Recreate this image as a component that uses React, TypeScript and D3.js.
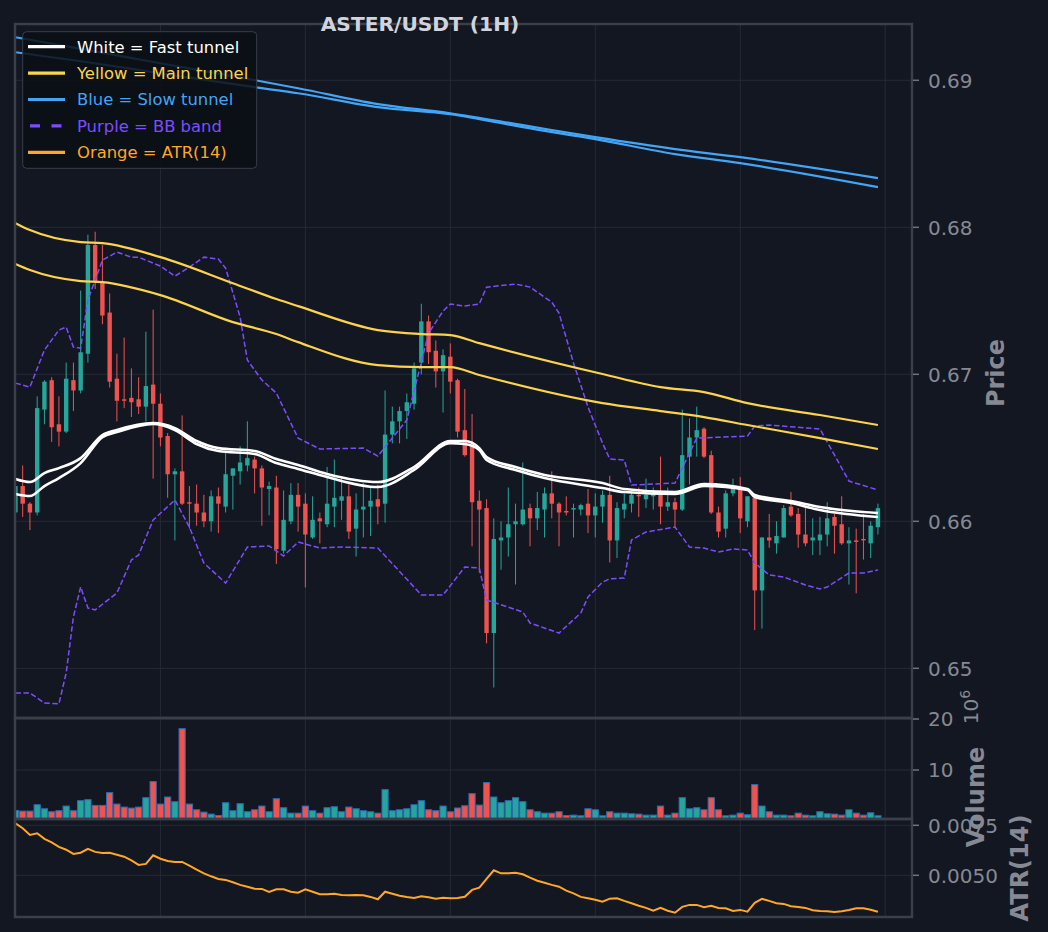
import React, { useEffect, useRef } from 'react';
import * as d3 from 'd3';

// ASTER/USDT 1H candles (index 0..119)
const opens = [
  0.6606, 0.6624, 0.6612, 0.6606, 0.6676, 0.6696, 0.6666, 0.6661, 0.6696, 0.6689,
  0.6714, 0.6788, 0.6763, 0.6742, 0.6697, 0.6683, 0.6684, 0.6683, 0.6678, 0.6693,
  0.6680, 0.6658, 0.6632, 0.6634, 0.6613, 0.6612, 0.6606, 0.6600, 0.6617, 0.6610,
  0.6631, 0.6634, 0.6638, 0.6642, 0.6636, 0.6622, 0.6623, 0.6580, 0.6600, 0.6618,
  0.6612, 0.6589, 0.6602, 0.6598, 0.6610, 0.6614, 0.6617, 0.6595, 0.6608, 0.6610,
  0.6615, 0.6612, 0.6659, 0.6668, 0.6675, 0.6680, 0.6708, 0.6736, 0.6716, 0.6702,
  0.6712, 0.6696, 0.6662, 0.6651, 0.6614, 0.6609, 0.6524, 0.6587, 0.6589, 0.6598,
  0.6598, 0.6609, 0.6602, 0.6608, 0.6619, 0.6612, 0.6607, 0.6608, 0.6608, 0.6612,
  0.6604, 0.6610, 0.6618, 0.6587, 0.6608, 0.6612, 0.6618, 0.6615, 0.6617, 0.6618,
  0.6610, 0.6613, 0.6608, 0.6644, 0.6657, 0.6663, 0.6645, 0.6606, 0.6595, 0.6619,
  0.6623, 0.6600, 0.6616, 0.6553, 0.6589, 0.6585, 0.6589, 0.6610, 0.6605, 0.6591,
  0.6587, 0.6587, 0.6591, 0.6603, 0.6598, 0.6585, 0.6587, 0.6588, 0.6585, 0.6596,
];
const highs = [
  0.6625, 0.6638, 0.6613, 0.6685, 0.6696, 0.6698, 0.6685, 0.6708, 0.6708, 0.6757,
  0.6795, 0.6797, 0.6788, 0.6755, 0.6714, 0.6725, 0.6704, 0.6698, 0.6729, 0.6744,
  0.6687, 0.6660, 0.6636, 0.6672, 0.6624, 0.6625, 0.6618, 0.6621, 0.6623, 0.6647,
  0.6636, 0.6651, 0.6668, 0.6644, 0.6638, 0.6627, 0.6631, 0.6621, 0.6626, 0.6626,
  0.6619, 0.6617, 0.6606, 0.6637, 0.6642, 0.6630, 0.6625, 0.6619, 0.6626, 0.6623,
  0.6625, 0.6689, 0.6678, 0.6678, 0.6687, 0.6708, 0.6748, 0.6740, 0.6723, 0.6717,
  0.6721, 0.6697, 0.6690, 0.6673, 0.6621, 0.6615, 0.6602, 0.6600, 0.6623, 0.6612,
  0.6640, 0.6612, 0.6620, 0.6623, 0.6634, 0.6613, 0.6617, 0.6612, 0.6612, 0.6622,
  0.6619, 0.6621, 0.6631, 0.6613, 0.6619, 0.6620, 0.6623, 0.6629, 0.6623, 0.6644,
  0.6623, 0.6616, 0.6676, 0.6670, 0.6678, 0.6664, 0.6648, 0.6610, 0.6621, 0.6629,
  0.6630, 0.6617, 0.6618, 0.6589, 0.6605, 0.6600, 0.6611, 0.6620, 0.6609, 0.6609,
  0.6602, 0.6603, 0.6613, 0.6605, 0.6617, 0.6596, 0.6595, 0.6605, 0.6600, 0.6612,
];
const lows = [
  0.6604, 0.6603, 0.6594, 0.6604, 0.6666, 0.6654, 0.6651, 0.6660, 0.6675, 0.6687,
  0.6708, 0.6758, 0.6734, 0.6691, 0.6668, 0.6677, 0.6671, 0.6673, 0.6668, 0.6629,
  0.6651, 0.6616, 0.6587, 0.6611, 0.6595, 0.6597, 0.6596, 0.6593, 0.6592, 0.6606,
  0.6608, 0.6625, 0.6634, 0.6619, 0.6597, 0.6604, 0.6571, 0.6578, 0.6598, 0.6593,
  0.6555, 0.6588, 0.6585, 0.6596, 0.6596, 0.6601, 0.6588, 0.6576, 0.6589, 0.6590,
  0.6598, 0.6599, 0.6653, 0.6653, 0.6656, 0.6676, 0.6700, 0.6707, 0.6691, 0.6674,
  0.6687, 0.6657, 0.6644, 0.6583, 0.6565, 0.6517, 0.6487, 0.6567, 0.6576, 0.6557,
  0.6597, 0.6583, 0.6594, 0.6589, 0.6602, 0.6583, 0.6604, 0.6589, 0.6604, 0.6592,
  0.6589, 0.6599, 0.6572, 0.6575, 0.6602, 0.6606, 0.6603, 0.6609, 0.6608, 0.6598,
  0.6607, 0.6596, 0.6607, 0.6625, 0.6644, 0.6643, 0.6605, 0.6589, 0.6589, 0.6617,
  0.6592, 0.6596, 0.6526, 0.6527, 0.6582, 0.6578, 0.6589, 0.6603, 0.6582, 0.6583,
  0.6577, 0.6577, 0.6583, 0.6578, 0.6584, 0.6557, 0.6551, 0.6574, 0.6575, 0.6591,
];
const closes = [
  0.6624, 0.6612, 0.6606, 0.6677, 0.6695, 0.6664, 0.6661, 0.6697, 0.6689, 0.6715,
  0.6788, 0.6763, 0.6740, 0.6695, 0.6682, 0.6682, 0.6681, 0.6678, 0.6692, 0.6680,
  0.6657, 0.6632, 0.6634, 0.6612, 0.6612, 0.6606, 0.6600, 0.6617, 0.6612, 0.6632,
  0.6636, 0.6640, 0.6643, 0.6636, 0.6623, 0.6624, 0.6581, 0.6601, 0.6618, 0.6610,
  0.6591, 0.6601, 0.6600, 0.6612, 0.6616, 0.6617, 0.6593, 0.6608, 0.6610, 0.6614,
  0.6610, 0.6659, 0.6668, 0.6675, 0.6681, 0.6704, 0.6736, 0.6715, 0.6702, 0.6713,
  0.6695, 0.6661, 0.6645, 0.6613, 0.6608, 0.6524, 0.6588, 0.6589, 0.6598, 0.6600,
  0.6608, 0.6602, 0.6609, 0.6619, 0.6612, 0.6606, 0.6606, 0.6609, 0.6611, 0.6604,
  0.6610, 0.6618, 0.6587, 0.6609, 0.6612, 0.6618, 0.6617, 0.6618, 0.6619, 0.6610,
  0.6613, 0.6608, 0.6645, 0.6657, 0.6662, 0.6644, 0.6606, 0.6593, 0.6619, 0.6623,
  0.6602, 0.6617, 0.6553, 0.6589, 0.6587, 0.6590, 0.6609, 0.6604, 0.6591, 0.6585,
  0.6589, 0.6591, 0.6602, 0.6597, 0.6585, 0.6587, 0.6586, 0.6587, 0.6597, 0.6609,
];

// volume, in millions
const volumes = [
  2.07, 1.94, 1.94, 3.19, 2.40, 1.81, 2.01, 2.93, 2.01, 3.98,
  4.18, 3.06, 3.06, 5.56, 3.32, 2.73, 2.53, 2.73, 4.57, 7.73,
  3.32, 4.70, 3.78, 18.11, 3.32, 2.20, 1.74, 1.35, 1.08, 3.58,
  2.01, 3.39, 1.81, 2.20, 2.93, 1.81, 4.37, 2.60, 1.54, 1.54,
  2.93, 2.01, 1.54, 2.60, 2.79, 1.81, 2.73, 2.40, 2.01, 1.81,
  1.54, 6.15, 2.01, 2.20, 2.40, 3.19, 3.98, 2.20, 2.01, 2.93,
  1.81, 2.55, 2.99, 5.36, 3.12, 7.53, 4.70, 3.58, 3.98, 4.57,
  3.78, 2.20, 1.81, 1.54, 1.54, 1.81, 1.08, 1.15, 1.02, 2.40,
  2.20, 1.02, 1.81, 1.54, 1.54, 1.41, 1.35, 1.15, 1.15, 2.93,
  1.15, 1.54, 4.57, 2.40, 2.60, 2.20, 4.57, 2.20, 1.02, 1.15,
  1.54, 1.22, 7.13, 2.93, 1.81, 1.15, 1.15, 1.02, 1.54, 1.15,
  1.02, 1.81, 1.41, 1.35, 1.15, 2.20, 1.54, 1.15, 1.61, 1.02,
];

const atrValues = [
  0.00760, 0.00735, 0.00702, 0.00710, 0.00682, 0.00665, 0.00642, 0.00628, 0.00607, 0.00613,
  0.00632, 0.00617, 0.00612, 0.00613, 0.00603, 0.00593, 0.00575, 0.00552, 0.00557, 0.00600,
  0.00583, 0.00572, 0.00567, 0.00567, 0.00548, 0.00528, 0.00510, 0.00495, 0.00482, 0.00477,
  0.00465, 0.00452, 0.00443, 0.00433, 0.00432, 0.00417, 0.00430, 0.00430, 0.00418, 0.00413,
  0.00430, 0.00418, 0.00405, 0.00405, 0.00408, 0.00402, 0.00400, 0.00402, 0.00400, 0.00392,
  0.00380, 0.00418, 0.00408, 0.00398, 0.00392, 0.00387, 0.00395, 0.00390, 0.00383, 0.00388,
  0.00385, 0.00387, 0.00393, 0.00427, 0.00438, 0.00482, 0.00525, 0.00510, 0.00510, 0.00513,
  0.00505, 0.00488, 0.00473, 0.00463, 0.00452, 0.00443, 0.00423, 0.00410, 0.00392, 0.00385,
  0.00378, 0.00368, 0.00383, 0.00385, 0.00372, 0.00360, 0.00348, 0.00337, 0.00323, 0.00337,
  0.00323, 0.00313, 0.00342, 0.00352, 0.00352, 0.00340, 0.00348, 0.00337, 0.00335, 0.00322,
  0.00327, 0.00318, 0.00362, 0.00382, 0.00372, 0.00360, 0.00357, 0.00345, 0.00342, 0.00337,
  0.00325, 0.00322, 0.00320, 0.00317, 0.00320, 0.00327, 0.00335, 0.00335, 0.00328, 0.00318,
];

// tunnels, sampled at candle indices
const fastIdx = [0, 2, 4, 6, 9, 12, 14, 19, 22, 25, 28, 33, 36, 39, 43, 50, 55, 60, 62, 64, 65, 69, 73, 81, 84, 91, 95, 101, 102, 107, 111, 119];
const fastA = [0.66288, 0.66267, 0.66328, 0.66362, 0.66430, 0.66587, 0.66621, 0.66668, 0.66634, 0.66546, 0.66498, 0.66478, 0.66424, 0.66383, 0.66322, 0.66267, 0.66369, 0.66546, 0.66546, 0.66498, 0.66437, 0.66369, 0.66315, 0.66260, 0.66220, 0.66199, 0.66254, 0.66220, 0.66179, 0.66138, 0.66097, 0.66056];
const fastB = [0.66186, 0.66172, 0.66240, 0.66294, 0.66396, 0.66573, 0.66607, 0.66662, 0.66621, 0.66526, 0.66478, 0.66458, 0.66396, 0.66356, 0.66301, 0.66233, 0.66349, 0.66532, 0.66526, 0.66485, 0.66417, 0.66349, 0.66294, 0.66226, 0.66199, 0.66186, 0.66240, 0.66213, 0.66165, 0.66124, 0.66077, 0.66029];

const mainIdx = [0, 2, 9, 12, 20, 30, 36, 39, 50, 56, 60, 64, 81, 89, 95, 101, 111, 119];
const mainA = [0.68028, 0.67981, 0.67899, 0.67892, 0.67797, 0.67620, 0.67512, 0.67464, 0.67301, 0.67274, 0.67267, 0.67212, 0.67002, 0.66913, 0.66879, 0.66804, 0.66723, 0.66655];
const mainB = [0.67750, 0.67709, 0.67634, 0.67627, 0.67539, 0.67355, 0.67274, 0.67219, 0.67063, 0.67049, 0.67049, 0.66995, 0.66804, 0.66750, 0.66709, 0.66655, 0.66566, 0.66492];

const slowIdx = [0, 10, 20, 33, 39, 50, 60, 70, 80, 91, 100, 119];
const slowA = [0.69293, 0.69205, 0.69116, 0.69001, 0.68946, 0.68838, 0.68776, 0.68695, 0.68613, 0.68532, 0.68477, 0.68334];
const slowB = [0.69191, 0.69123, 0.69048, 0.68953, 0.68912, 0.68817, 0.68770, 0.68681, 0.68600, 0.68498, 0.68436, 0.68273];

// Bollinger band
const bbUpIdx = [0, 2, 4, 6, 7, 8, 9, 10, 12, 14, 16, 17, 20, 22, 24, 26, 28, 29, 31, 32, 34, 36, 39, 42, 48, 50, 54, 57, 59, 60, 62, 64, 65, 69, 71, 74, 75, 77, 79, 81, 82, 84, 85, 91, 94, 101, 102, 104, 111, 115, 119];
const bbUp = [0.66940, 0.66913, 0.67165, 0.67301, 0.67321, 0.67185, 0.67178, 0.67505, 0.67777, 0.67831, 0.67797, 0.67797, 0.67736, 0.67668, 0.67729, 0.67797, 0.67784, 0.67722, 0.67389, 0.67097, 0.66961, 0.66872, 0.66566, 0.66492, 0.66498, 0.66444, 0.66689, 0.67280, 0.67430, 0.67478, 0.67464, 0.67478, 0.67593, 0.67614, 0.67593, 0.67491, 0.67416, 0.67076, 0.66777, 0.66532, 0.66424, 0.66417, 0.66247, 0.66260, 0.66566, 0.66580, 0.66648, 0.66655, 0.66628, 0.66274, 0.66213];
const bbLoIdx = [0, 2, 4, 6, 7, 8, 9, 10, 11, 14, 16, 17, 19, 22, 24, 26, 29, 32, 35, 37, 39, 42, 45, 50, 55, 56, 59, 62, 64, 65, 70, 71, 75, 78, 79, 81, 82, 84, 85, 87, 91, 93, 95, 97, 99, 101, 102, 104, 106, 109, 111, 112, 115, 117, 119];
const bbLo = [0.64832, 0.64832, 0.64764, 0.64758, 0.64968, 0.65349, 0.65553, 0.65410, 0.65397, 0.65512, 0.65737, 0.65771, 0.66009, 0.66145, 0.65961, 0.65716, 0.65580, 0.65825, 0.65832, 0.65764, 0.65859, 0.65818, 0.65825, 0.65818, 0.65553, 0.65499, 0.65499, 0.65689, 0.65682, 0.65465, 0.65383, 0.65308, 0.65240, 0.65376, 0.65485, 0.65587, 0.65608, 0.65614, 0.65873, 0.65927, 0.65961, 0.65825, 0.65818, 0.65791, 0.65812, 0.65805, 0.65716, 0.65635, 0.65621, 0.65567, 0.65540, 0.65553, 0.65648, 0.65648, 0.65669];

const priceTicks = [0.65, 0.66, 0.67, 0.68, 0.69];
const volumeTicks = [10, 20];
const atrTicks = [0.005, 0.0075];
const timeGrid = [20, 40, 60, 80, 100, 120];
const legendLabels = ['White = Fast tunnel', 'Yellow = Main tunnel', 'Blue = Slow tunnel', 'Purple = BB band', 'Orange = ATR(14)'];

const BG = '#131722';
const GRID = '#262a35';
const SPINE = '#3b3f4a';
const TXT = '#868993';
const UP = '#26a69a';
const DOWN = '#ef5350';
const WHITE = '#ffffff';
const YELLOW = '#fbd34d';
const BLUE = '#42a5f5';
const PURPLE = '#7c4dff';
const ORANGE = '#ffa726';
const FONT = '"DejaVu Sans", sans-serif';

export default function App() {
  const svgRef = useRef<SVGSVGElement>(null);

  useEffect(() => {
    if (!svgRef.current) return;
    document.body.style.margin = '0';
    document.body.style.background = BG;

    const svg = d3.select(svgRef.current);
    svg.selectAll('*').remove();

    const left = 15;
    const right = 912;
    const pTop = 24, pBot = 718;
    const vTop = 718, vBot = 819;
    const aTop = 819, aBot = 917;

    const x = d3.scaleLinear().domain([-0.06, 123.7]).range([left, right]);
    const yP = d3.scaleLinear().domain([0.64662, 0.69383]).range([pBot, pTop]);
    const yV = d3.scaleLinear().domain([0, 20.2]).range([821, vTop]);
    const yA = d3.scaleLinear().domain([0.002915, 0.007815]).range([aBot, aTop]);

    svg.append('rect').attr('width', 1048).attr('height', 932).attr('fill', BG);

    const defs = svg.append('defs');
    const clip = (id: string, top: number, bot: number) =>
      defs.append('clipPath').attr('id', id)
        .append('rect').attr('x', left).attr('y', top).attr('width', right - left).attr('height', bot - top);
    clip('clipP', pTop, pBot);
    clip('clipV', vTop, vBot);
    clip('clipA', aTop, aBot);

    // grids
    const grid = (top: number, bot: number, ticks: number[], y: d3.ScaleLinear<number, number>) => {
      const g = svg.append('g').attr('stroke', GRID).attr('stroke-width', 1);
      timeGrid.forEach(t => {
        g.append('line').attr('x1', x(t)).attr('x2', x(t)).attr('y1', top).attr('y2', bot);
      });
      ticks.forEach(t => {
        g.append('line').attr('x1', left).attr('x2', right).attr('y1', y(t)).attr('y2', y(t));
      });
    };
    grid(pTop, pBot, priceTicks, yP);
    grid(vTop, vBot, volumeTicks, yV);
    grid(aTop, aBot, atrTicks, yA);

    // candles
    const cg = svg.append('g').attr('clip-path', 'url(#clipP)');
    const bodyW = 4.4;
    opens.forEach((o, i) => {
      const c = closes[i];
      const col = c >= o ? UP : DOWN;
      cg.append('line')
        .attr('x1', x(i)).attr('x2', x(i))
        .attr('y1', yP(highs[i])).attr('y2', yP(lows[i]))
        .attr('stroke', col).attr('stroke-width', 1);
      const yTop = yP(Math.max(o, c));
      const h = Math.max(Math.abs(yP(o) - yP(c)), 1);
      cg.append('rect')
        .attr('x', x(i) - bodyW / 2).attr('y', yTop)
        .attr('width', bodyW).attr('height', h)
        .attr('fill', col);
    });

    // indicator lines
    const lineOf = (idx: number[], vals: number[], curve: d3.CurveFactory) =>
      d3.line<number>().x((_, k) => x(idx[k])).y(d => yP(d)).curve(curve)(vals);

    const lg = svg.append('g').attr('clip-path', 'url(#clipP)').attr('fill', 'none');
    [bbUp, bbLo].forEach((vals, k) => {
      lg.append('path')
        .attr('d', lineOf(k === 0 ? bbUpIdx : bbLoIdx, vals, d3.curveLinear))
        .attr('stroke', PURPLE).attr('stroke-width', 1.5).attr('stroke-dasharray', '5.5,2.5');
    });
    [mainA, mainB].forEach(vals => {
      lg.append('path').attr('d', lineOf(mainIdx, vals, d3.curveMonotoneX))
        .attr('stroke', YELLOW).attr('stroke-width', 2.2);
    });
    [slowA, slowB].forEach(vals => {
      lg.append('path').attr('d', lineOf(slowIdx, vals, d3.curveMonotoneX))
        .attr('stroke', BLUE).attr('stroke-width', 2.2);
    });
    [fastA, fastB].forEach(vals => {
      lg.append('path').attr('d', lineOf(fastIdx, vals, d3.curveMonotoneX))
        .attr('stroke', WHITE).attr('stroke-width', 2.6);
    });

    // volume
    const vg = svg.append('g').attr('clip-path', 'url(#clipV)');
    const barW = 6.2;
    volumes.forEach((v, i) => {
      vg.append('rect')
        .attr('x', x(i) - barW / 2).attr('y', yV(v))
        .attr('width', barW).attr('height', yV(0) - yV(v))
        .attr('fill', closes[i] >= opens[i] ? UP : DOWN)
        .attr('stroke', '#2a6db5').attr('stroke-width', 1);
    });

    // ATR
    svg.append('g').attr('clip-path', 'url(#clipA)')
      .append('path')
      .attr('d', d3.line<number>().x((_, i) => x(i)).y(d => yA(d))(atrValues))
      .attr('fill', 'none').attr('stroke', ORANGE).attr('stroke-width', 2);

    // spines
    [[pTop, pBot], [vTop, vBot], [aTop, aBot]].forEach(([t, b]) => {
      svg.append('rect')
        .attr('x', left).attr('y', t).attr('width', right - left).attr('height', b - t)
        .attr('fill', 'none').attr('stroke', SPINE).attr('stroke-width', 2.5);
    });

    // right axes
    const axis = (ticks: number[], y: d3.ScaleLinear<number, number>, fmt: (v: number) => string) => {
      const g = svg.append('g').attr('font-family', FONT).attr('font-size', 20).attr('fill', TXT);
      ticks.forEach(t => {
        g.append('line').attr('x1', right + 1).attr('x2', right + 7).attr('y1', y(t)).attr('y2', y(t))
          .attr('stroke', '#6f737c').attr('stroke-width', 1.5);
        g.append('text').attr('x', right + 16).attr('y', y(t)).attr('dy', '0.36em').text(fmt(t));
      });
    };
    axis(priceTicks, yP, d3.format('.2f'));
    axis(volumeTicks, yV, d3.format('d'));
    axis(atrTicks, yA, d3.format('.4f'));

    const vLabel = (txt: string, cx: number, cy: number) =>
      svg.append('text')
        .attr('transform', `translate(${cx},${cy}) rotate(-90)`)
        .attr('text-anchor', 'middle').attr('dy', '0.36em')
        .attr('font-family', FONT).attr('font-size', 24).attr('font-weight', 'bold')
        .attr('fill', TXT).text(txt);
    vLabel('Price', 995, 373);
    vLabel('Volume', 975, 797);
    vLabel('ATR(14)', 1019, 868);

    const off = svg.append('text')
      .attr('transform', 'translate(971,707) rotate(-90)')
      .attr('text-anchor', 'middle').attr('dy', '0.36em')
      .attr('font-family', FONT).attr('font-size', 20).attr('fill', TXT);
    off.append('tspan').text('10');
    off.append('tspan').attr('font-size', 14).attr('dy', '-0.6em').text('6');

    // legend
    const legendColors = [WHITE, YELLOW, BLUE, PURPLE, ORANGE];
    const leg = svg.append('g');
    leg.append('rect')
      .attr('x', 22.7).attr('y', 31.7).attr('width', 234).attr('height', 136.6).attr('rx', 4)
      .attr('fill', '#0b0e14').attr('fill-opacity', 0.85)
      .attr('stroke', '#3a3e48').attr('stroke-width', 1);
    legendLabels.forEach((lbl, k) => {
      const cy = 46.7 + k * 26.4;
      const ln = leg.append('line')
        .attr('x1', 28).attr('x2', 65).attr('y1', cy).attr('y2', cy)
        .attr('stroke', legendColors[k]).attr('stroke-width', 3.2);
      if (k === 3) ln.attr('x1', 30).attr('x2', 63).attr('stroke-dasharray', '10,11.5');
      leg.append('text')
        .attr('x', 77).attr('y', cy).attr('dy', '0.36em')
        .attr('font-family', FONT).attr('font-size', 16.4)
        .attr('fill', legendColors[k]).text(lbl);
    });

    // title
    svg.append('text')
      .attr('x', 420).attr('y', 31)
      .attr('text-anchor', 'middle')
      .attr('font-family', FONT).attr('font-size', 20.2).attr('font-weight', 'bold')
      .attr('fill', '#d1d4dc').text('ASTER/USDT (1H)');
  }, []);

  return <svg ref={svgRef} width={1048} height={932} style={{ display: 'block' }} />;
}
